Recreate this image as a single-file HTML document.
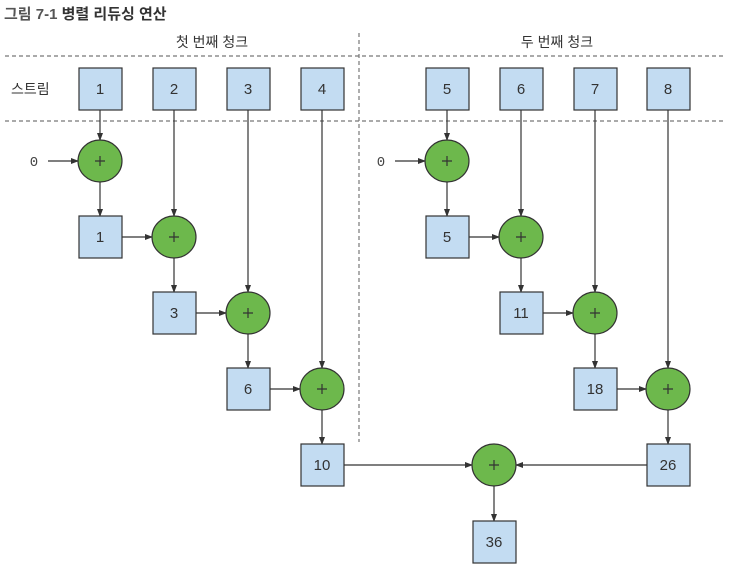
<!DOCTYPE html>
<html><head><meta charset="utf-8"><style>
html,body{margin:0;padding:0;background:#fff;}
svg{display:block;}
text{font-family:"Liberation Sans","Noto Sans CJK KR",sans-serif;}
</style></head><body>
<svg width="736" height="578" viewBox="0 0 736 578" xmlns="http://www.w3.org/2000/svg">
<defs>
<marker id="a" markerWidth="8" markerHeight="8" refX="7" refY="4" orient="auto" markerUnits="userSpaceOnUse">
<path d="M0,1 L8,4 L0,7 z" fill="#333"/></marker>
</defs>
<text x="4" y="19" font-size="15" font-weight="bold" fill="#555">그림 7-1 <tspan fill="#333">병렬 리듀싱 연산</tspan></text>
<text x="212" y="47" font-size="14" fill="#333" text-anchor="middle">첫 번째 청크</text>
<text x="557" y="47" font-size="14" fill="#333" text-anchor="middle">두 번째 청크</text>
<text x="11" y="94" font-size="14" fill="#333">스트림</text>
<g stroke="#777" stroke-width="1.2" stroke-dasharray="4,3">
<line x1="5" y1="56" x2="723" y2="56"/>
<line x1="5" y1="121" x2="723" y2="121"/>
<line x1="359" y1="33" x2="359" y2="442"/>
</g>
<g stroke="#333" stroke-width="1.2" fill="none" marker-end="url(#a)">
<line x1="100" y1="110" x2="100" y2="140"/>
<line x1="48" y1="161" x2="78" y2="161"/>
<line x1="100" y1="182" x2="100" y2="216"/>
<line x1="174" y1="110" x2="174" y2="216"/>
<line x1="122" y1="237" x2="152" y2="237"/>
<line x1="174" y1="258" x2="174" y2="292"/>
<line x1="248" y1="110" x2="248" y2="292"/>
<line x1="196" y1="313" x2="226" y2="313"/>
<line x1="248" y1="334" x2="248" y2="368"/>
<line x1="322" y1="110" x2="322" y2="368"/>
<line x1="270" y1="389" x2="300" y2="389"/>
<line x1="322" y1="410" x2="322" y2="444"/>
<line x1="447" y1="110" x2="447" y2="140"/>
<line x1="395" y1="161" x2="425" y2="161"/>
<line x1="447" y1="182" x2="447" y2="216"/>
<line x1="521" y1="110" x2="521" y2="216"/>
<line x1="469" y1="237" x2="499" y2="237"/>
<line x1="521" y1="258" x2="521" y2="292"/>
<line x1="595" y1="110" x2="595" y2="292"/>
<line x1="543" y1="313" x2="573" y2="313"/>
<line x1="595" y1="334" x2="595" y2="368"/>
<line x1="668" y1="110" x2="668" y2="368"/>
<line x1="617" y1="389" x2="646" y2="389"/>
<line x1="668" y1="410" x2="668" y2="444"/>
<line x1="343" y1="465" x2="472" y2="465"/>
<line x1="647" y1="465" x2="516" y2="465"/>
<line x1="494" y1="486" x2="494" y2="521"/>
</g>
<g fill="#c3dcf2" stroke="#333" stroke-width="1.2">
<rect x="79" y="68" width="43" height="42"/>
<rect x="153" y="68" width="43" height="42"/>
<rect x="227" y="68" width="43" height="42"/>
<rect x="301" y="68" width="43" height="42"/>
<rect x="426" y="68" width="43" height="42"/>
<rect x="500" y="68" width="43" height="42"/>
<rect x="574" y="68" width="43" height="42"/>
<rect x="647" y="68" width="43" height="42"/>
<rect x="79" y="216" width="43" height="42"/>
<rect x="153" y="292" width="43" height="42"/>
<rect x="227" y="368" width="43" height="42"/>
<rect x="301" y="444" width="43" height="42"/>
<rect x="426" y="216" width="43" height="42"/>
<rect x="500" y="292" width="43" height="42"/>
<rect x="574" y="368" width="43" height="42"/>
<rect x="647" y="444" width="43" height="42"/>
<rect x="473" y="521" width="43" height="42"/>
</g>
<g fill="#6db84c" stroke="#333" stroke-width="1.2">
<ellipse cx="100" cy="161" rx="22" ry="21"/>
<ellipse cx="174" cy="237" rx="22" ry="21"/>
<ellipse cx="248" cy="313" rx="22" ry="21"/>
<ellipse cx="322" cy="389" rx="22" ry="21"/>
<ellipse cx="447" cy="161" rx="22" ry="21"/>
<ellipse cx="521" cy="237" rx="22" ry="21"/>
<ellipse cx="595" cy="313" rx="22" ry="21"/>
<ellipse cx="668" cy="389" rx="22" ry="21"/>
<ellipse cx="494" cy="465" rx="22" ry="21"/>
</g>
<g font-size="15" fill="#333" text-anchor="middle">
<text x="100" y="94">1</text><text x="174" y="94">2</text><text x="248" y="94">3</text><text x="322" y="94">4</text>
<text x="447" y="94">5</text><text x="521" y="94">6</text><text x="595" y="94">7</text><text x="668" y="94">8</text>
<text x="100" y="242">1</text><text x="174" y="318">3</text><text x="248" y="394">6</text><text x="322" y="470">10</text>
<text x="447" y="242">5</text><text x="521" y="318">11</text><text x="595" y="394">18</text><text x="668" y="470">26</text>
<text x="494" y="547">36</text>
</g>
<g stroke="#333" stroke-width="1.2">
<path d="M95,161h10M100,156v10"/><path d="M169,237h10M174,232v10"/><path d="M243,313h10M248,308v10"/><path d="M317,389h10M322,384v10"/>
<path d="M442,161h10M447,156v10"/><path d="M516,237h10M521,232v10"/><path d="M590,313h10M595,308v10"/><path d="M663,389h10M668,384v10"/>
<path d="M489,465h10M494,460v10"/>
</g>
<g font-size="14" fill="#444" text-anchor="middle">
<text x="34" y="166" style="font-family:'Liberation Mono',monospace">0</text>
<text x="381" y="166" style="font-family:'Liberation Mono',monospace">0</text>
</g>
</svg>
</body></html>
